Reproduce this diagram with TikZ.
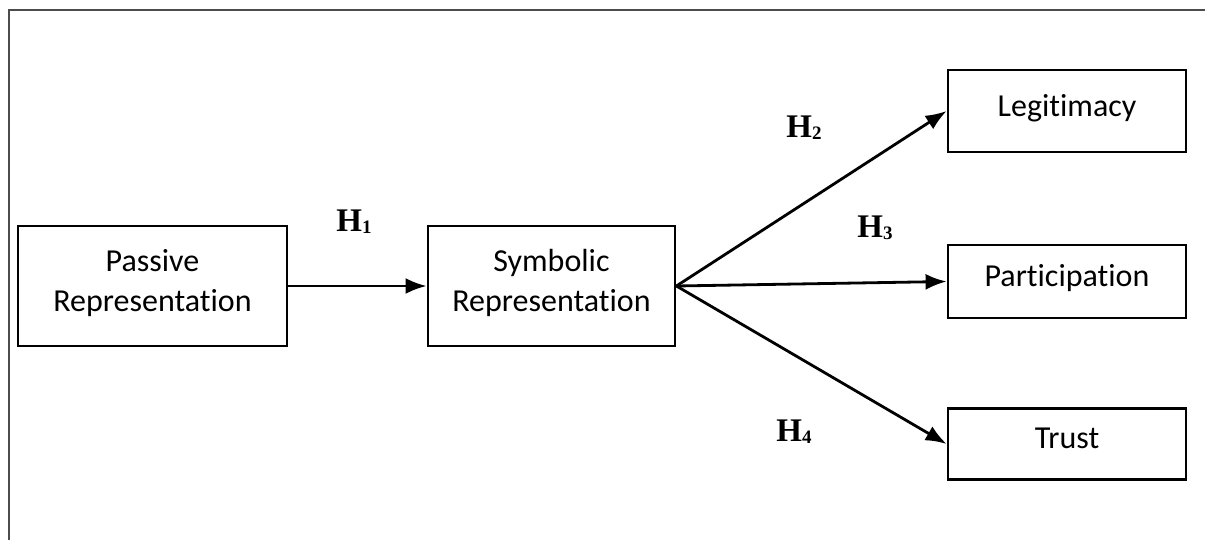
\documentclass[tikz,border=0pt]{standalone}
\usepackage{fontspec}
\setmainfont{Carlito}[Ligatures=NoCommon]
\newfontfamily\hfont{Liberation Serif}
\usepackage{tikz}
\usetikzlibrary{arrows.meta,positioning}

\tikzset{
	varbox/.style={draw,line width=1.4pt,align=center,inner sep=0pt,font=\fontsize{16}{20}\selectfont,text depth=6pt},
	hyp/.style={font=\hfont\fontsize{16.5}{18}\selectfont\bfseries},
	path arrow/.style={-{Latex[length=10.5pt,width=8pt]},line width=1.4pt}
}
\newcommand{\hlab}[1]{H\raisebox{-0.15ex}{\fontsize{9.5}{10}\selectfont #1}}

\begin{document}
\begin{tikzpicture}[x=0.5pt,y=-0.5pt]
		\useasboundingbox (0,0) rectangle (1205,540);
		\draw[line width=1.4pt,black!70] (9,560) -- (9,10) -- (1230,10);
		\node[varbox,minimum width=134.5pt,minimum height=60pt] (passive) at (152.5,286) {Passive\\Representation};
		\node[varbox,minimum width=123.5pt,minimum height=60pt] (symbolic) at (551.5,286) {Symbolic\\Representation};
		\node[varbox,minimum width=119pt,minimum height=41pt] (legit) at (1067,111) {Legitimacy};
		\node[varbox,minimum width=119pt,minimum height=36.5pt] (partic) at (1067,281.5) {Participation};
		\node[varbox,minimum width=119pt,minimum height=35.5pt] (trust) at (1067,444) {Trust};
		\draw[path arrow] (passive.east) -- (symbolic.west);
		\draw[path arrow] (symbolic.east) -- (legit.west);
		\draw[path arrow] (symbolic.east) -- (partic.west);
		\draw[path arrow] (symbolic.east) -- (trust.west);
		\node[hyp] (h1) at (354,222) {\hlab{1}};
		\node[hyp] (h2) at (804,128) {\hlab{2}};
		\node[hyp] (h3) at (875,228) {\hlab{3}};
		\node[hyp] (h4) at (794,432) {\hlab{4}};
	\end{tikzpicture}
\end{document}
